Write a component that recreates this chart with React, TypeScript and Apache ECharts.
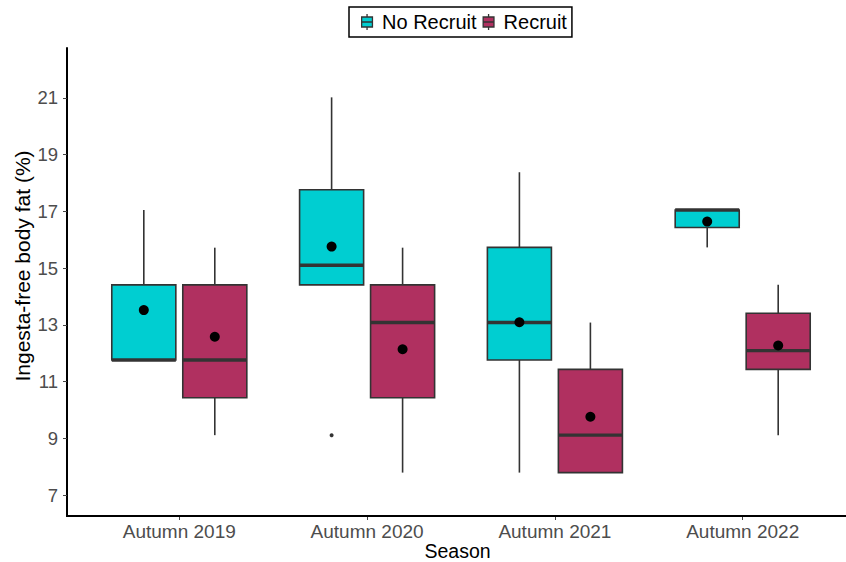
import React, { useEffect, useRef } from "react";
import * as echarts from "echarts";

// Categories and summary statistics of ingesta-free body fat (%)
const seasons = ["Autumn 2019", "Autumn 2020", "Autumn 2021", "Autumn 2022"];

// [lower whisker, Q1, median, Q3, upper whisker] per season
const noRecruitBoxes = [
  [11.76, 11.76, 11.76, 14.41, 17.05],
  [14.41, 14.41, 15.1, 17.76, 21.02],
  [7.79, 11.76, 13.08, 15.73, 18.38],
  [15.73, 16.43, 17.05, 17.05, 17.05],
];
const recruitBoxes = [
  [9.11, 10.43, 11.76, 14.41, 15.72],
  [7.79, 10.43, 13.08, 14.41, 15.72],
  [7.79, 7.79, 9.11, 11.43, 13.08],
  [9.11, 11.43, 12.09, 13.41, 14.41],
];
const noRecruitMeans = [13.52, 15.76, 13.09, 16.64];
const recruitMeans = [12.58, 12.14, 9.76, 12.27];

// [season index, value]
const noRecruitOutliers = [[1, 9.11]];
const recruitOutliers: number[][] = [];

const yTicks = [7, 9, 11, 13, 15, 17, 19, 21];

const NO_RECRUIT_COLOR = "#00CED1";
const RECRUIT_COLOR = "#B03060";
const OUTLINE = "#333333";
const FONT = "'Liberation Sans', Arial, sans-serif";
const BOX_FRAC = 0.341;
const DODGE_FRAC = 0.189;

const LEGEND_ICON =
  "path://M6,0 L6,3 M0.6,3 L11.4,3 L11.4,13 L0.6,13 Z M0.6,8 L11.4,8 M6,13 L6,16";

function boxRows(boxes: number[][], means: number[]) {
  return boxes.map((b, i) => [i, ...b, means[i]]);
}

function boxRenderer(side: number, fill: string) {
  return (_params: any, api: any) => {
    const cat = api.value(0);
    const band = api.size([1, 0])[0];
    const cx = api.coord([cat, 0])[0] + side * DODGE_FRAC * band;
    const half = (BOX_FRAC * band) / 2;
    const y = (v: number) => api.coord([cat, v])[1];
    const low = y(api.value(1));
    const q1 = y(api.value(2));
    const med = y(api.value(3));
    const q3 = y(api.value(4));
    const high = y(api.value(5));
    const mean = y(api.value(6));
    const whisker = { stroke: OUTLINE, lineWidth: 1.6 };
    const children: any[] = [];
    if (high < q3 - 0.5) {
      children.push({ type: "line", shape: { x1: cx, y1: q3, x2: cx, y2: high }, style: whisker });
    }
    if (low > q1 + 0.5) {
      children.push({ type: "line", shape: { x1: cx, y1: q1, x2: cx, y2: low }, style: whisker });
    }
    children.push({
      type: "rect",
      shape: { x: cx - half, y: q3, width: half * 2, height: q1 - q3 },
      style: { fill, stroke: OUTLINE, lineWidth: 1.6 },
    });
    children.push({
      type: "line",
      shape: { x1: cx - half, y1: med, x2: cx + half, y2: med },
      style: { stroke: OUTLINE, lineWidth: 3.4 },
    });
    children.push({
      type: "circle",
      shape: { cx, cy: mean, r: 5 },
      style: { fill: "#000" },
    });
    return { type: "group", children };
  };
}

function outlierRenderer(side: number) {
  return (_params: any, api: any) => {
    const cat = api.value(0);
    const band = api.size([1, 0])[0];
    const p = api.coord([cat, api.value(1)]);
    return {
      type: "circle",
      shape: { cx: p[0] + side * DODGE_FRAC * band, cy: p[1], r: 2 },
      style: { fill: OUTLINE },
    };
  };
}

export default function App() {
  const ref = useRef<HTMLDivElement>(null);

  useEffect(() => {
    if (!ref.current) return;
    const chart = echarts.init(ref.current, undefined, { renderer: "svg" });
    chart.setOption({
      animation: false,
      backgroundColor: "#ffffff",
      textStyle: { fontFamily: FONT },
      grid: {
        left: 85.4,
        right: 9.4,
        top: 48,
        bottom: 46,
        containLabel: false,
        outerBoundsMode: "none",
      },
      legend: {
        top: 7,
        left: 349,
        orient: "horizontal",
        padding: [5, 5, 5, 12],
        borderColor: "#000",
        borderWidth: 1.5,
        borderRadius: 0,
        itemWidth: 12,
        itemHeight: 16,
        itemGap: 6,
        selectedMode: false,
        textStyle: { fontSize: 20, color: "#000", fontFamily: FONT, padding: [0, 0, 0, 4] },
        data: [
          {
            name: "No Recruit",
            icon: LEGEND_ICON,
            itemStyle: { color: NO_RECRUIT_COLOR, borderColor: OUTLINE, borderWidth: 1.3 },
          },
          {
            name: "Recruit",
            icon: LEGEND_ICON,
            itemStyle: { color: RECRUIT_COLOR, borderColor: OUTLINE, borderWidth: 1.3 },
          },
        ],
      },
      xAxis: {
        type: "category",
        data: seasons,
        boundaryGap: true,
        name: "Season",
        nameLocation: "middle",
        nameGap: 25,
        nameMoveOverlap: false,
        nameTextStyle: { fontSize: 19.5, color: "#000", fontFamily: FONT, padding: [0, 7, 0, 0] },
        axisLine: { show: false },
        axisTick: { show: true, alignWithLabel: true, length: 4, lineStyle: { color: "#444", width: 1 } },
        axisLabel: { fontSize: 19, color: "#4D4D4D", margin: 6, fontFamily: FONT },
        splitLine: { show: false },
      },
      yAxis: {
        type: "value",
        min: 6.26,
        max: 22.76,
        offset: 18.4,
        name: "Ingesta-free body fat (%)",
        nameLocation: "middle",
        nameRotate: 90,
        nameGap: 34,
        nameMoveOverlap: false,
        nameTextStyle: { fontSize: 21, color: "#000", fontFamily: FONT, padding: [0, 0, 0, 32] },
        axisLine: { show: true, onZero: false, lineStyle: { color: "#000", width: 2 } },
        axisTick: { show: true, length: 4, customValues: yTicks, lineStyle: { color: "#444", width: 1 } },
        axisLabel: { customValues: yTicks, fontSize: 18.5, color: "#4D4D4D", margin: 9, fontFamily: FONT },
        splitLine: { show: false },
      },
      graphic: [
        {
          type: "line",
          shape: { x1: 66, y1: 516, x2: 846, y2: 516 },
          style: { stroke: "#000", lineWidth: 2 },
          z: 10,
        },
      ],
      series: [
        {
          name: "No Recruit",
          type: "custom",
          itemStyle: { color: NO_RECRUIT_COLOR, borderColor: OUTLINE },
          encode: { x: 0, y: [1, 2, 3, 4, 5, 6] },
          renderItem: boxRenderer(-1, NO_RECRUIT_COLOR),
          data: boxRows(noRecruitBoxes, noRecruitMeans),
        },
        {
          name: "Recruit",
          type: "custom",
          itemStyle: { color: RECRUIT_COLOR, borderColor: OUTLINE },
          encode: { x: 0, y: [1, 2, 3, 4, 5, 6] },
          renderItem: boxRenderer(1, RECRUIT_COLOR),
          data: boxRows(recruitBoxes, recruitMeans),
        },
        {
          name: "No Recruit outliers",
          type: "custom",
          encode: { x: 0, y: 1 },
          renderItem: outlierRenderer(-1),
          data: noRecruitOutliers,
        },
        {
          name: "Recruit outliers",
          type: "custom",
          encode: { x: 0, y: 1 },
          renderItem: outlierRenderer(1),
          data: recruitOutliers,
        },
      ],
    });
    return () => chart.dispose();
  }, []);

  return (
    <div
      ref={ref}
      style={{ position: "fixed", left: 0, top: 0, width: 846, height: 562, background: "#fff" }}
    />
  );
}
